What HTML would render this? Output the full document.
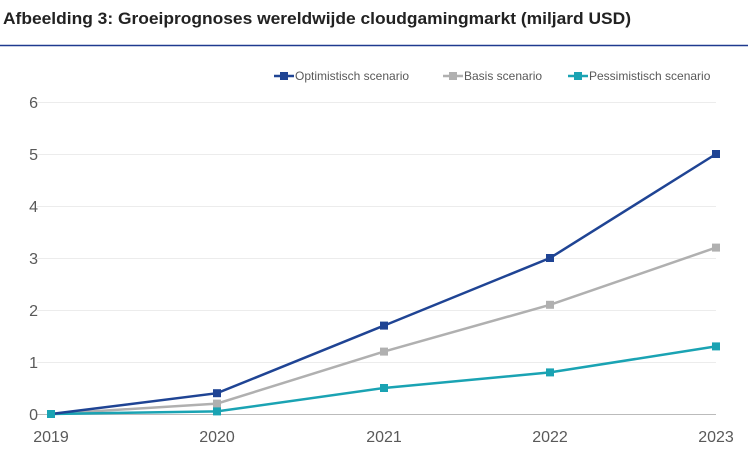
<!DOCTYPE html>
<html><head><meta charset="utf-8"><style>
body{margin:0;background:#fff;width:748px;height:465px;overflow:hidden;font-family:"Liberation Sans",sans-serif}
</style></head><body>
<svg width="748" height="465" xmlns="http://www.w3.org/2000/svg">
<text x="3" y="24" font-family="Liberation Sans Narrow, Liberation Sans, sans-serif" font-weight="bold" font-size="17" fill="#222" textLength="628" lengthAdjust="spacingAndGlyphs">Afbeelding 3: Groeiprognoses wereldwijde cloudgamingmarkt (miljard USD)</text>
<line x1="0" y1="45.5" x2="748" y2="45.5" stroke="#1f3a8f" stroke-width="1.5"/>
<g stroke="#ececec" stroke-width="1">
<line x1="37" y1="102.5" x2="716" y2="102.5"/>
<line x1="37" y1="154.5" x2="716" y2="154.5"/>
<line x1="37" y1="206.5" x2="716" y2="206.5"/>
<line x1="37" y1="258.5" x2="716" y2="258.5"/>
<line x1="37" y1="310.5" x2="716" y2="310.5"/>
<line x1="37" y1="362.5" x2="716" y2="362.5"/>
</g>
<line x1="37" y1="414.5" x2="716" y2="414.5" stroke="#bbb"/>
<g font-size="16" fill="#595959" text-anchor="end">
<text x="38" y="108">6</text><text x="38" y="160">5</text><text x="38" y="212">4</text>
<text x="38" y="264">3</text><text x="38" y="316">2</text><text x="38" y="368">1</text><text x="38" y="420">0</text>
</g>
<g font-size="16" fill="#595959" text-anchor="middle">
<text x="51" y="442">2019</text><text x="217" y="442">2020</text><text x="384" y="442">2021</text>
<text x="550" y="442">2022</text><text x="716" y="442">2023</text>
</g>
<g fill="none" stroke-width="2.5">
<polyline stroke="#b0b0b0" points="51,414 217,403.6 384,351.6 550,304.8 716,247.6"/>
<polyline stroke="#1aa3b3" points="51,414 217,411.4 384,388 550,372.4 716,346.4"/>
<polyline stroke="#1f4494" points="51,414 217,393.2 384,325.6 550,258 716,154"/>
</g>
<g fill="#b0b0b0"><rect x="47" y="410" width="8" height="8"/><rect x="213" y="399.6" width="8" height="8"/><rect x="380" y="347.6" width="8" height="8"/><rect x="546" y="300.8" width="8" height="8"/><rect x="712" y="243.6" width="8" height="8"/></g>
<g fill="#1aa3b3"><rect x="47" y="410" width="8" height="8"/><rect x="213" y="407.4" width="8" height="8"/><rect x="380" y="384" width="8" height="8"/><rect x="546" y="368.4" width="8" height="8"/><rect x="712" y="342.4" width="8" height="8"/></g>
<g fill="#1f4494"><rect x="213" y="389.2" width="8" height="8"/><rect x="380" y="321.6" width="8" height="8"/><rect x="546" y="254" width="8" height="8"/><rect x="712" y="150" width="8" height="8"/></g>
<g font-size="12" fill="#595959">
<line x1="274" y1="76" x2="294" y2="76" stroke="#1f4494" stroke-width="2.5"/><rect x="280" y="72" width="8" height="8" fill="#1f4494"/>
<text x="295" y="80">Optimistisch scenario</text>
<line x1="443" y1="76" x2="463" y2="76" stroke="#b0b0b0" stroke-width="2.5"/><rect x="449" y="72" width="8" height="8" fill="#b0b0b0"/>
<text x="464" y="80">Basis scenario</text>
<line x1="568" y1="76" x2="588" y2="76" stroke="#1aa3b3" stroke-width="2.5"/><rect x="574" y="72" width="8" height="8" fill="#1aa3b3"/>
<text x="589" y="80">Pessimistisch scenario</text>
</g>
</svg>
</body></html>
